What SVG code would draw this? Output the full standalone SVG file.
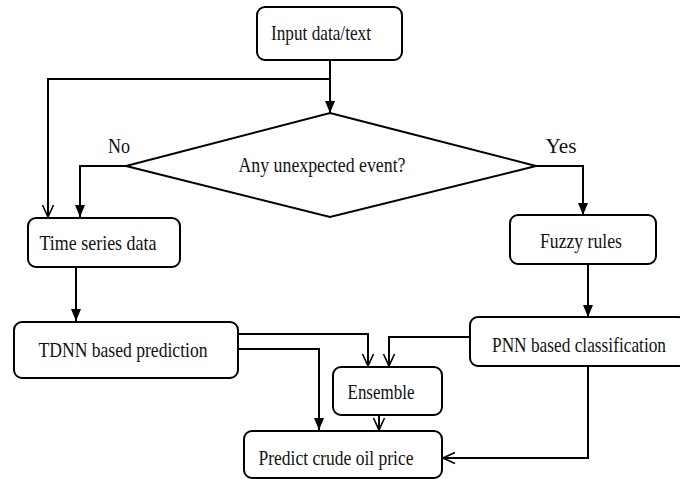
<svg xmlns="http://www.w3.org/2000/svg" width="680" height="479" viewBox="0 0 680 479">
<style>
.box{fill:#fff;stroke:#000;stroke-width:2}
.ln{fill:none;stroke:#000;stroke-width:2}
text{font-family:"Liberation Serif","Times New Roman",serif;font-size:21px;fill:#111;text-anchor:middle}
</style>
<defs>
<marker id="fa" markerUnits="userSpaceOnUse" markerWidth="12" markerHeight="14" viewBox="0 0 12 10" refX="12" refY="5" orient="auto">
<path d="M0,0 L12,5 L0,10 Z" fill="#000"/>
</marker>
<marker id="oa" markerUnits="userSpaceOnUse" markerWidth="14" markerHeight="14" viewBox="0 0 14 14" refX="13" refY="7" orient="auto">
<path d="M1,1.5 L13,7 L1,12.5" fill="none" stroke="#000" stroke-width="1.6"/>
</marker>
</defs>
<rect width="680" height="479" fill="#fff"/>
<g id="connectors">
<path class="ln" d="M330,60 V113" marker-end="url(#fa)"/>
<path class="ln" d="M330,79 H48 V217" marker-end="url(#oa)"/>
<path class="ln" d="M126,166 H80 V217" marker-end="url(#fa)"/>
<path class="ln" d="M536,166 H583 V215" marker-end="url(#fa)"/>
<path class="ln" d="M76,268 V321" marker-end="url(#fa)"/>
<path class="ln" d="M588,264 V317" marker-end="url(#fa)"/>
<path class="ln" d="M238,334 H368 V366" marker-end="url(#oa)"/>
<path class="ln" d="M238,349 H319 V430" marker-end="url(#fa)"/>
<path class="ln" d="M470,337 H389 V366" marker-end="url(#oa)"/>
<path class="ln" d="M379,415 V430" marker-end="url(#oa)"/>
<path class="ln" d="M588,366 V458 H443" marker-end="url(#oa)"/>
</g>
<g id="input">
<rect class="box" x="257" y="7" width="145" height="53" rx="8"/>
<text x="321" y="40" textLength="100" lengthAdjust="spacingAndGlyphs">Input data/text</text>
</g>
<g id="decision">
<polygon class="box" points="330,113 536,166 330,217 126,166"/>
<text x="322" y="172" textLength="167" lengthAdjust="spacingAndGlyphs">Any unexpected event?</text>
</g>
<g id="labels">
<text x="119" y="153" font-size="22" textLength="22" lengthAdjust="spacingAndGlyphs">No</text>
<text x="561" y="153" font-size="22" textLength="31" lengthAdjust="spacingAndGlyphs">Yes</text>
</g>
<g id="timeseries">
<rect class="box" x="28" y="218" width="152" height="49" rx="8"/>
<text x="98" y="250" textLength="117" lengthAdjust="spacingAndGlyphs">Time series data</text>
</g>
<g id="fuzzy">
<rect class="box" x="510" y="215" width="146" height="49" rx="8"/>
<text x="581" y="248" textLength="82" lengthAdjust="spacingAndGlyphs">Fuzzy rules</text>
</g>
<g id="tdnn">
<rect class="box" x="14" y="322" width="224" height="56" rx="8"/>
<text x="123" y="357" textLength="169" lengthAdjust="spacingAndGlyphs">TDNN based prediction</text>
</g>
<g id="pnn">
<rect class="box" x="470" y="317" width="216" height="49" rx="8"/>
<text x="579" y="352" textLength="174" lengthAdjust="spacingAndGlyphs">PNN based classification</text>
</g>
<g id="ensemble">
<rect class="box" x="333" y="367" width="109" height="48" rx="8"/>
<text x="381" y="399" textLength="67" lengthAdjust="spacingAndGlyphs">Ensemble</text>
</g>
<g id="predict">
<rect class="box" x="244" y="431" width="198" height="47" rx="8"/>
<text x="336" y="465" textLength="155" lengthAdjust="spacingAndGlyphs">Predict crude oil price</text>
</g>
</svg>
